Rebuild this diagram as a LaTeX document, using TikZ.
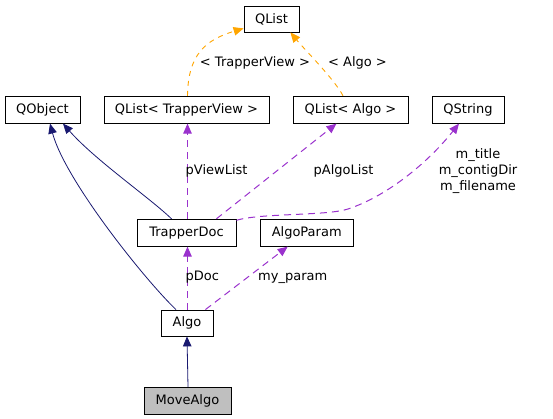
\documentclass[tikz,border=0pt]{standalone}
\usepackage{fontspec}
\setmainfont{DejaVu Sans}
\usetikzlibrary{arrows.meta}
\definecolor{edgeblue}{HTML}{191970}
\definecolor{edgepurple}{HTML}{9A32CD}
\definecolor{edgeorange}{HTML}{FFA500}

\begin{document}
\begin{tikzpicture}[x=1pt, y=-1pt,
  cls/.style={draw=black, line width=0.8pt, minimum height=27pt, inner sep=0pt, font=\fontsize{13}{15}\selectfont},
  lbl/.style={inner sep=0pt, font=\fontsize{13}{15}\selectfont},
  tip/.style={-{Triangle[length=10pt,width=8.5pt]}},
  inherit/.style={tip, draw=edgeblue, line width=0.8pt},
  usage/.style={tip, draw=edgepurple, line width=1pt, dash pattern=on 7pt off 5pt},
  templ/.style={tip, draw=edgeorange, line width=0.9pt, dash pattern=on 5pt off 5pt}]

\useasboundingbox (0,0) rectangle (553,419);

% classes
\node[cls, minimum width=55pt, minimum height=26pt] (qlist) at (271.5,19) {QList};
\node[cls, minimum width=75pt] (qobject) at (42.5,109.7) {QObject};
\node[cls, minimum width=165pt] (qlisttv) at (186.5,109.7) {QList< TrapperView >};
\node[cls, minimum width=115pt] (qlistalgo) at (350.5,109.7) {QList< Algo >};
\node[cls, minimum width=72pt] (qstring) at (468,109.7) {QString};
\node[cls, minimum width=99pt] (trapperdoc) at (186.5,232.7) {TrapperDoc};
\node[cls, minimum width=93pt] (algoparam) at (306.7,232.7) {AlgoParam};
\node[cls, minimum width=52pt, minimum height=26pt] (algo) at (187,323) {Algo};
\node[cls, minimum width=87pt, fill=gray!50] (movealgo) at (187.5,400.7) {MoveAlgo};

% template instances
\draw[templ] ([xshift=1]qlisttv.north) .. controls (188,55) and (205,40) .. ([yshift=4pt]qlist.south west);
\draw[templ] ([xshift=-7.5]qlistalgo.north) .. controls (335,80) and (305,50) .. ([xshift=-9]qlist.south east);
\node[lbl] (tvlbl) at (255,63) {< TrapperView >};
\node[lbl] (algolbl) at (357.5,63) {< Algo >};

% inheritance
\draw[inherit] ([xshift=-15]trapperdoc.north) .. controls (150,198) and (95,160) .. ([xshift=20.5]qobject.south);
\draw[inherit] ([xshift=-11]algo.north) .. controls (145,280) and (65,180) .. ([xshift=7.5]qobject.south);
\draw[inherit] ([xshift=0.5]movealgo.north) -- (algo.south);

% members
\draw[usage] ([xshift=1]trapperdoc.north) -- ([xshift=1]qlisttv.south);
\node[lbl, anchor=west] (pviewlbl) at (185.5,171) {pViewList};
\draw[usage] ([xshift=-20]trapperdoc.north east) -- ([xshift=-14]qlistalgo.south);
\node[lbl, anchor=west] (palgolbl) at (313.5,171) {pAlgoList};
\draw[usage] ([yshift=-1.5pt]trapperdoc.north east) .. controls (260,213) and (327,216) .. (348,209) .. controls (390,195) and (430,160) .. ([xshift=-9]qstring.south);
\node[lbl, align=center, font=\fontsize{13}{16}\selectfont] (qstringlbl) at (478,171) {m\_title\\m\_contigDir\\m\_filename};
\draw[usage] ([xshift=0.5]algo.north) -- ([xshift=1]trapperdoc.south);
\node[lbl, anchor=west] (pdoclbl) at (185.5,277.5) {pDoc};
\draw[usage] ([xshift=-8]algo.north east) -- ([xshift=-19]algoparam.south);
\node[lbl, anchor=west] (paramlbl) at (258,278) {my\_param};

\end{tikzpicture}
\end{document}
